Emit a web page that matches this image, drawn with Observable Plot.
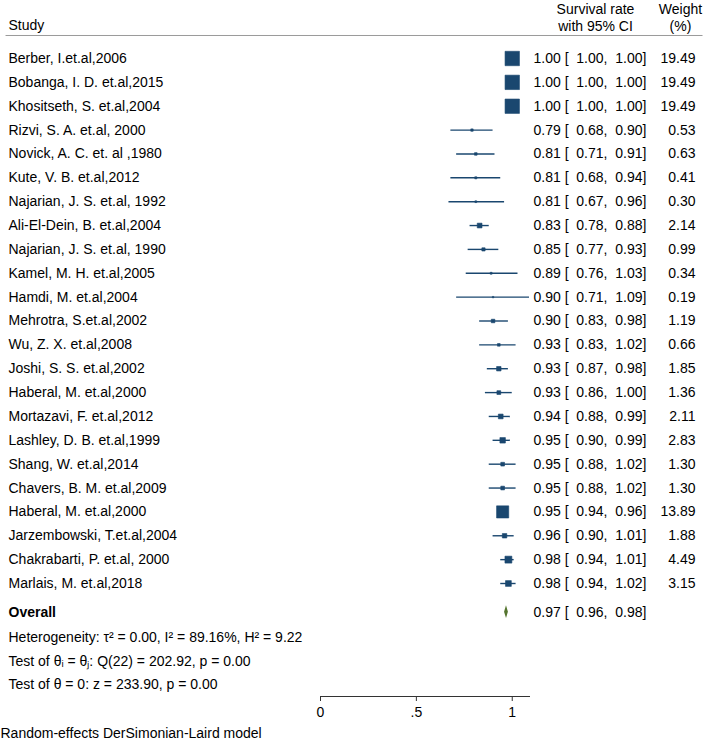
<!DOCTYPE html>
<html><head><meta charset="utf-8">
<script src="https://cdn.jsdelivr.net/npm/d3@7"></script>
<script src="https://cdn.jsdelivr.net/npm/@observablehq/plot@0.6"></script>
<style>
body{margin:0;background:#fff}
#chart svg{font-family:"Liberation Sans",Arial,sans-serif;}
</style>
</head><body><div id="chart"></div>
<script>
const studies = [
  "Berber, I.et.al,2006",
  "Bobanga, I. D. et.al,2015",
  "Khositseth, S. et.al,2004",
  "Rizvi, S. A. et.al, 2000",
  "Novick, A. C. et. al ,1980",
  "Kute, V. B. et.al,2012",
  "Najarian, J. S. et.al, 1992",
  "Ali-El-Dein, B. et.al,2004",
  "Najarian, J. S. et.al, 1990",
  "Kamel, M. H. et.al,2005",
  "Hamdi, M. et.al,2004",
  "Mehrotra, S.et.al,2002",
  "Wu, Z. X. et.al,2008",
  "Joshi, S. S. et.al,2002",
  "Haberal, M. et.al,2000",
  "Mortazavi, F. et.al,2012",
  "Lashley, D. B. et.al,1999",
  "Shang, W. et.al,2014",
  "Chavers, B. M. et.al,2009",
  "Haberal, M. et.al,2000",
  "Jarzembowski, T.et.al,2004",
  "Chakrabarti, P. et.al, 2000",
  "Marlais, M. et.al,2018"
];
const estimates = [1.00,1.00,1.00,0.79,0.81,0.81,0.81,0.83,0.85,0.89,0.90,0.90,0.93,0.93,0.93,0.94,0.95,0.95,0.95,0.95,0.96,0.98,0.98];
const lower     = [1.00,1.00,1.00,0.68,0.71,0.68,0.67,0.78,0.77,0.76,0.71,0.83,0.83,0.87,0.86,0.88,0.90,0.88,0.88,0.94,0.90,0.94,0.94];
const upper     = [1.00,1.00,1.00,0.90,0.91,0.94,0.96,0.88,0.93,1.03,1.09,0.98,1.02,0.98,1.00,0.99,0.99,1.02,1.02,0.96,1.01,1.01,1.02];
const weights   = [19.49,19.49,19.49,0.53,0.63,0.41,0.30,2.14,0.99,0.34,0.19,1.19,0.66,1.85,1.36,2.11,2.83,1.30,1.30,13.89,1.88,4.49,3.15];
const overallEstimate = [0.97];
const overallLower = [0.96];
const overallUpper = [0.98];
const xTicks = [0, 0.5, 1];
const xTickLabels = ["0", ".5", "1"];
const headerStudy = "Study";
const headerCI = ["Survival rate", "with 95% CI"];
const headerWeight = ["Weight", "(%)"];
const overallLabel = "Overall";
const statLines = [
  "Heterogeneity: τ² = 0.00, I² = 89.16%, H² = 9.22",
  "Test of θᵢ = θⱼ: Q(22) = 202.92, p = 0.00",
  "Test of θ = 0: z = 233.90, p = 0.00"
];
const footnote = "Random-effects DerSimonian-Laird model";

const NAVY = "#1a476f", GREEN = "#55752f";
const f2 = d3.format(".2f");
const ciText = (e, l, u) => `${f2(e)} [  ${f2(l)},  ${f2(u)}]`;

const rows = studies.map((s, i) => ({
  study: s, row: i, est: estimates[i], lo: lower[i], hi: upper[i], w: weights[i],
  ci: ciText(estimates[i], lower[i], upper[i]), wt: f2(weights[i])
}));
const n = studies.length;
const oRow = n + 0.2;
const overall = {row: oRow, est: overallEstimate[0], lo: overallLower[0], hi: overallUpper[0],
  ci: ciText(overallEstimate[0], overallLower[0], overallUpper[0])};
const diamondH = 0.27;
const diamond = [
  {row: oRow - diamondH, x1: overall.est, x2: overall.est},
  {row: oRow, x1: overall.lo, x2: overall.hi},
  {row: oRow + diamondH, x1: overall.est, x2: overall.est}
];
const stats = statLines.map((t, i) => ({t, row: n + 1.25 + i}));

const FS = 14;
const plot = Plot.plot({
  width: 708, height: 740,
  marginLeft: 320, marginRight: 179, marginTop: 0, marginBottom: 44,
  style: {fontSize: FS + "px", fontFamily: '"Liberation Sans", Arial, sans-serif', color: "#000", background: "#fff"},
  x: {domain: [0, 1.09]},
  y: {type: "linear", domain: [0, n - 1], range: [58, 583], axis: null},
  r: {type: "sqrt", domain: [0, d3.max(weights)], range: [0, 8.12]},
  marks: [
    // header
    Plot.text([headerStudy], {text: d => d, y: [-1.38], frameAnchor: "left", dx: -312, textAnchor: "start", fontSize: FS}),
    Plot.text(headerCI, {text: d => d, y: [-2.05, -1.34], frameAnchor: "right", dx: 66, textAnchor: "middle", fontSize: FS}),
    Plot.text(headerWeight, {text: d => d, y: [-2.05, -1.34], frameAnchor: "right", dx: 151, textAnchor: "middle", fontSize: FS}),
    Plot.ruleY([-0.964], {x1: -1.64, x2: 1.995, stroke: "#9a9a9a", strokeWidth: 1}),
    // study rows
    Plot.ruleY(rows, {y: "row", x1: "lo", x2: "hi", stroke: NAVY, strokeWidth: 1.4}),
    Plot.dot(rows, {x: "est", y: "row", r: "w", symbol: "square", fill: NAVY, stroke: NAVY, strokeWidth: 0.6}),
    Plot.text(rows, {y: "row", text: "study", frameAnchor: "left", dx: -312, textAnchor: "start", fontSize: FS}),
    Plot.text(rows, {y: "row", text: "ci", frameAnchor: "right", dx: 4, textAnchor: "start", fontSize: FS}),
    Plot.text(rows, {y: "row", text: "wt", frameAnchor: "right", dx: 166, textAnchor: "end", fontSize: FS}),
    // overall
    Plot.areaX(diamond, {y: "row", x1: "x1", x2: "x2", fill: GREEN}),
    Plot.text([overall], {y: "row", text: () => overallLabel, frameAnchor: "left", dx: -312, textAnchor: "start", fontWeight: "bold", fontSize: FS}),
    Plot.text([overall], {y: "row", text: "ci", frameAnchor: "right", dx: 4, textAnchor: "start", fontSize: FS}),
    Plot.text(stats, {y: "row", text: "t", frameAnchor: "left", dx: -312, textAnchor: "start", fontSize: FS}),
    Plot.text([footnote], {text: d => d, y: [n + 5.3], frameAnchor: "left", dx: -320, textAnchor: "start", fontSize: FS}),
    // axis
    Plot.frame({anchor: "bottom", stroke: "#333", strokeWidth: 1}),
    Plot.axisX({ticks: xTicks, tickFormat: (d) => xTickLabels[xTicks.indexOf(d)], tickSize: 5, tickPadding: 6, fontSize: FS, stroke: "#333"})
  ]
});
document.getElementById("chart").appendChild(plot);
</script>
</body></html>
